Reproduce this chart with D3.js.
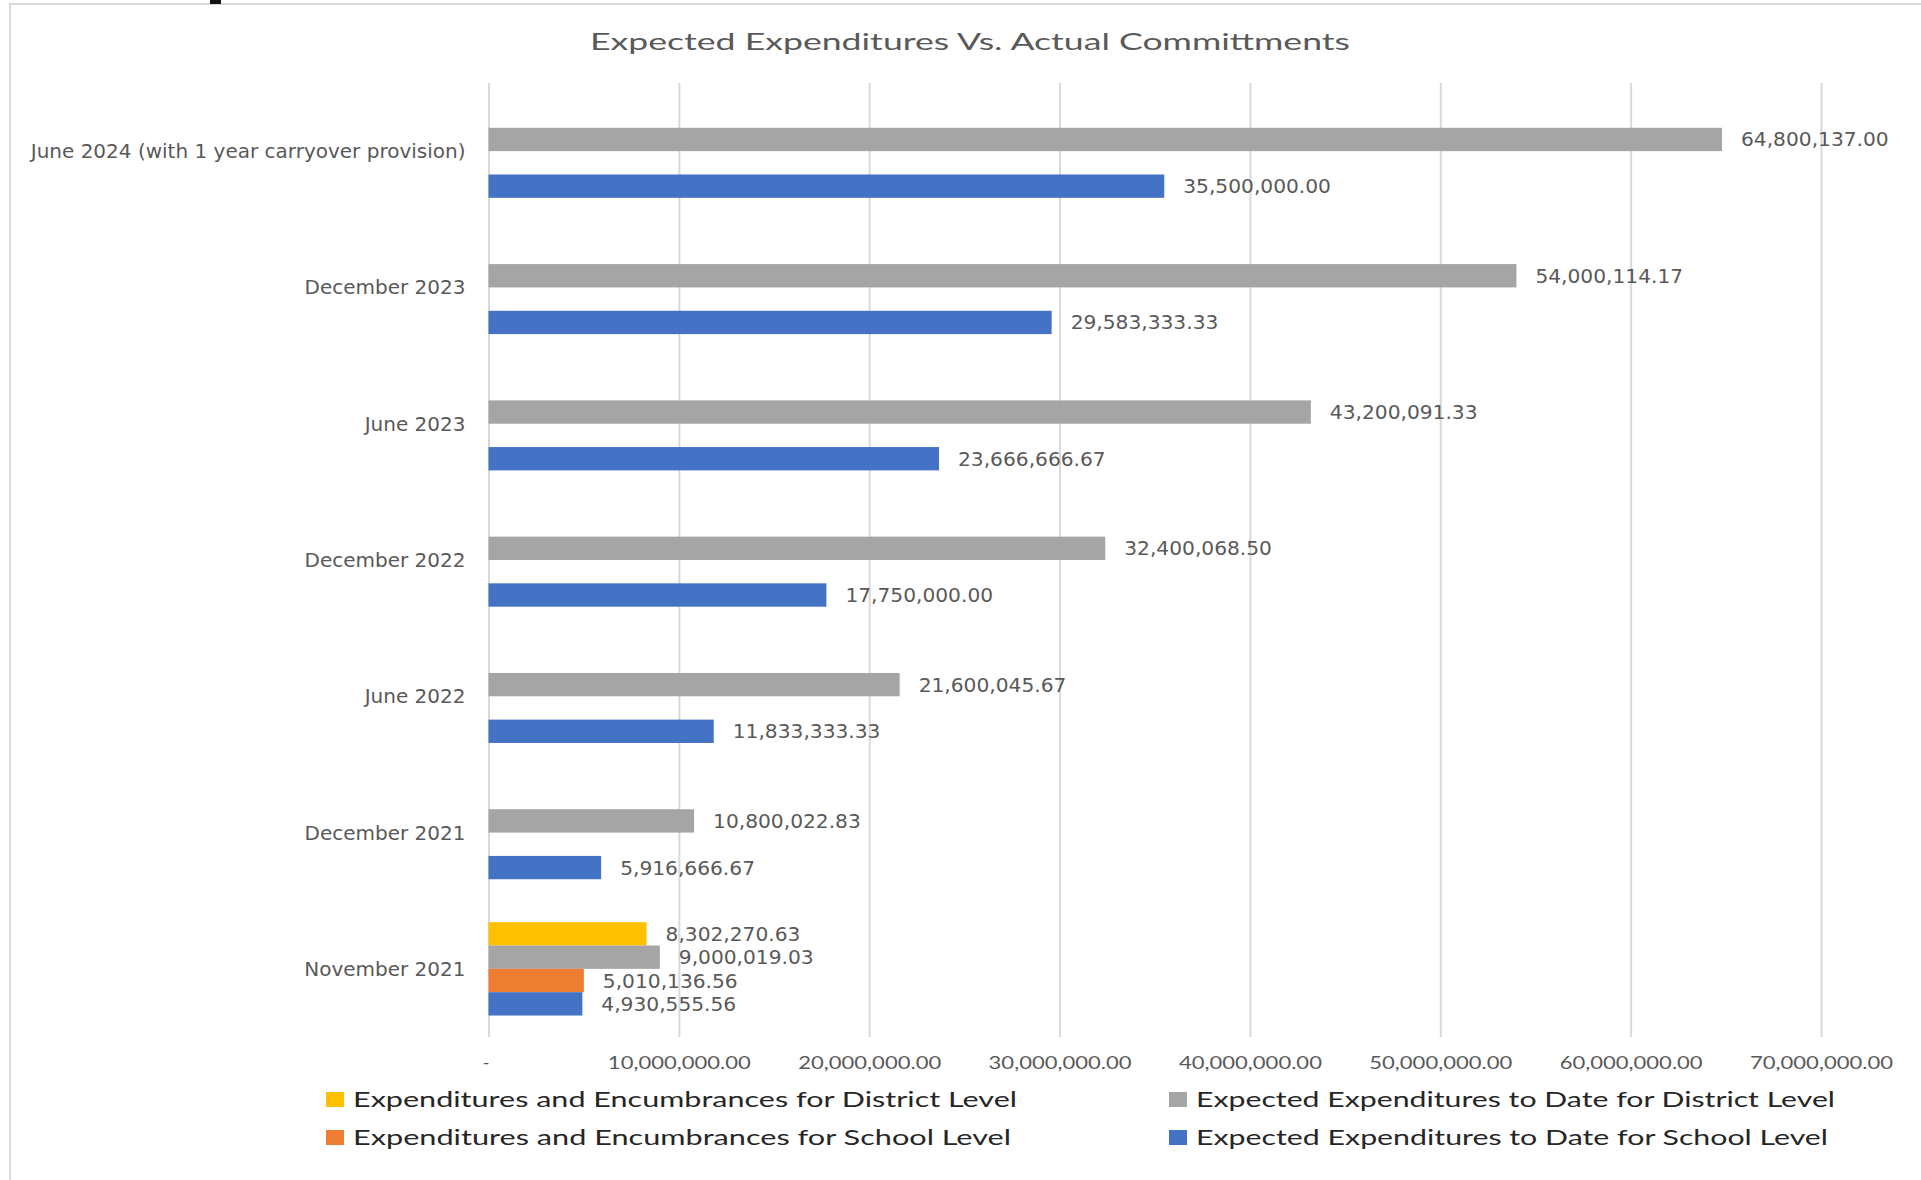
<!DOCTYPE html>
<html>
<head>
<meta charset="utf-8">
<script src="https://cdn.jsdelivr.net/npm/d3@7"></script>
<style>
  html, body { margin: 0; padding: 0; background: #fff; }
  svg { display: block; }
</style>
</head>
<body>
<svg id="chart"></svg>
<script>
// chart data
const categories = [
  "June 2024 (with 1 year carryover provision)",
  "December 2023",
  "June 2023",
  "December 2022",
  "June 2022",
  "December 2021",
  "November 2021"
];
const seriesNames = [
  "Expenditures and Encumbrances for District Level",
  "Expected Expenditures to Date for District Level",
  "Expenditures and Encumbrances for School Level",
  "Expected Expenditures to Date for School Level"
];
const districtSpent = [null, null, null, null, null, null, 8302270.63];
const districtExpected = [64800137.00, 54000114.17, 43200091.33, 32400068.50, 21600045.67, 10800022.83, 9000019.03];
const schoolSpent = [null, null, null, null, null, null, 5010136.56];
const schoolExpected = [35500000.00, 29583333.33, 23666666.67, 17750000.00, 11833333.33, 5916666.67, 4930555.56];
const xTicks = [0, 10000000, 20000000, 30000000, 40000000, 50000000, 60000000, 70000000];
const colors = ["#FFC000", "#A5A5A5", "#ED7D31", "#4472C4"];

const seriesValues = [districtSpent, districtExpected, schoolSpent, schoolExpected];

const width = 1921, height = 1180;
const plot = {left: 488.5, right: 1821, top: 83, bottom: 1037};
const textColor = "#595959";

const svg = d3.select("#chart")
    .attr("width", width)
    .attr("height", height)
    .attr("viewBox", [0, 0, width, height]);

// chart frame (cropped on the right and bottom)
svg.append("path")
    .attr("d", `M10,${height} V4 H${width}`)
    .attr("fill", "none")
    .attr("stroke", "#d9d9d9")
    .attr("stroke-width", 2);
// bit of a letter cut off from the slide above
svg.append("rect").attr("x", 210).attr("y", 0).attr("width", 11).attr("height", 4).attr("fill", "#111");

const x = d3.scaleLinear().domain([0, 70000000]).range([plot.left, plot.right]);
const y0 = d3.scaleBand().domain(categories).range([plot.top, plot.bottom])
    .paddingInner(0.315).paddingOuter(0.1575);
const y1 = d3.scaleBand().domain(d3.range(seriesNames.length)).range([0, y0.bandwidth()]);

const fmt = d3.format(",.2f");

// gridlines
svg.append("g")
    .attr("transform", `translate(0,${plot.bottom})`)
    .call(d3.axisBottom(x).tickValues(xTicks).tickSize(-(plot.bottom - plot.top)).tickFormat(""))
    .call(g => g.select(".domain").remove())
    .call(g => g.selectAll("line").attr("stroke", "#d9d9d9").attr("stroke-width", 2));

// tick labels
svg.append("g")
    .attr("transform", `translate(0,${plot.bottom})`)
    .call(d3.axisBottom(x).tickValues(xTicks).tickSize(0).tickFormat(d => d === 0 ? "-" : fmt(d)))
    .call(g => g.select(".domain").remove())
    .call(g => g.selectAll("text")
        .attr("y", 32).attr("dy", null)
        .attr("x", d => d === 0 ? -3 : 0)
        .attr("fill", textColor)
        .attr("font-family", "Lato, sans-serif")
        .attr("font-size", 18)
        .attr("textLength", d => d === 0 ? null : 143)
        .attr("lengthAdjust", "spacingAndGlyphs"));

// bars
const rows = categories.map((c, i) => ({
  category: c,
  values: seriesValues.map((s, k) => ({k, value: s[i]})).filter(d => d.value != null)
}));

const group = svg.append("g").selectAll("g")
    .data(rows)
    .join("g")
    .attr("transform", d => `translate(0,${y0(d.category)})`);

group.selectAll("rect")
    .data(d => d.values)
    .join("rect")
    .attr("x", x(0))
    .attr("y", d => y1(d.k))
    .attr("width", d => x(d.value) - x(0))
    .attr("height", y1.bandwidth())
    .attr("fill", d => colors[d.k]);

group.selectAll("text")
    .data(d => d.values)
    .join("text")
    .attr("x", d => x(d.value) + 19)
    .attr("y", d => y1(d.k) + y1.bandwidth() / 2 + 7)
    .attr("fill", textColor)
    .attr("font-family", "DejaVu Sans, sans-serif")
    .attr("font-size", 20.2)
    .text(d => fmt(d.value));

// category labels
svg.append("g").selectAll("text")
    .data(categories)
    .join("text")
    .attr("x", plot.left - 23)
    .attr("y", d => y0(d) + y0.bandwidth() / 2 + 7)
    .attr("text-anchor", "end")
    .attr("fill", textColor)
    .attr("font-family", "DejaVu Sans, sans-serif")
    .attr("font-size", 20)
    .text(d => d);

// title
svg.append("text")
    .attr("x", 590)
    .attr("y", 50)
    .attr("fill", textColor)
    .attr("font-family", "Lato, sans-serif")
    .attr("font-size", 24)
    .attr("textLength", 760)
    .attr("lengthAdjust", "spacingAndGlyphs")
    .text("Expected Expenditures Vs. Actual Committments");

// legend: two columns, two rows
const legendItems = [
  {k: 0, x: 326, y: 1107, w: 664},
  {k: 1, x: 1169, y: 1107, w: 639},
  {k: 2, x: 326, y: 1145, w: 658},
  {k: 3, x: 1169, y: 1145, w: 632}
];
const legend = svg.append("g").selectAll("g")
    .data(legendItems)
    .join("g")
    .attr("transform", d => `translate(${d.x},${d.y})`);
legend.append("rect")
    .attr("x", 0).attr("y", -15)
    .attr("width", 18).attr("height", 15)
    .attr("fill", d => colors[d.k]);
legend.append("text")
    .attr("x", 27)
    .attr("fill", "#262626")
    .attr("font-family", "Lato, sans-serif")
    .attr("font-size", 22)
    .attr("textLength", d => d.w)
    .attr("lengthAdjust", "spacingAndGlyphs")
    .text(d => seriesNames[d.k]);
</script>
</body>
</html>
